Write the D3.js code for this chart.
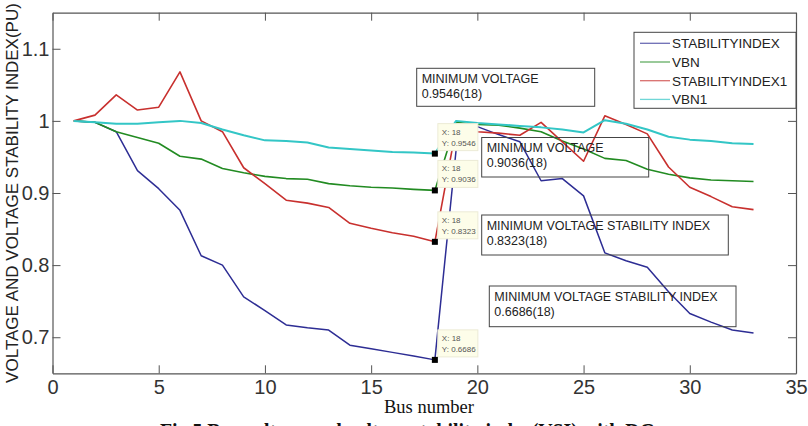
<!DOCTYPE html>
<html>
<head>
<meta charset="utf-8">
<script src="https://cdn.jsdelivr.net/npm/d3@7"></script>
<style>
  body { margin: 0; background: #fff; }
  .chart svg { display: block; }
</style>
</head>
<body>
<div class="chart"></div>
<script>
// data
let bus = [1, 2, 3, 4, 5, 6, 7, 8, 9, 10, 11, 12, 13, 14, 15, 16, 17, 18, 19, 20,
           21, 22, 23, 24, 25, 26, 27, 28, 29, 30, 31, 32, 33];

let stabilityIndex = [1.0, 0.998, 0.985, 0.931, 0.906, 0.876, 0.813, 0.800, 0.756, 0.737,
  0.717, 0.713, 0.710, 0.689, 0.684, 0.679, 0.674, 0.6686, 0.960, 0.992, 0.981, 0.971,
  0.917, 0.920, 0.896, 0.817, 0.806, 0.797, 0.763, 0.733, 0.721, 0.710, 0.706];

let vbn = [1.0, 0.998, 0.985, 0.977, 0.969, 0.951, 0.947, 0.934, 0.928, 0.923, 0.920,
  0.919, 0.913, 0.910, 0.908, 0.907, 0.905, 0.9036, 0.998, 0.995, 0.994, 0.990, 0.985,
  0.972, 0.961, 0.948, 0.945, 0.933, 0.926, 0.921, 0.918, 0.917, 0.916];

let stabilityIndex1 = [1.0, 1.008, 1.036, 1.015, 1.019, 1.068, 1.0, 0.985, 0.935, 0.913,
  0.890, 0.886, 0.880, 0.858, 0.851, 0.845, 0.840, 0.8323, 0.990, 0.985, 0.983, 0.980,
  0.998, 0.971, 0.944, 1.007, 0.995, 0.982, 0.936, 0.908, 0.895, 0.881, 0.877];

let vbn1 = [1.0, 0.998, 0.996, 0.996, 0.998, 1.0, 0.997, 0.988, 0.980, 0.973, 0.972,
  0.970, 0.963, 0.961, 0.959, 0.957, 0.956, 0.9546, 1.0, 0.997, 0.995, 0.993, 0.991,
  0.988, 0.984, 1.001, 0.996, 0.988, 0.978, 0.974, 0.972, 0.969, 0.968];

let seriesNames = ["STABILITYINDEX", "VBN", "STABILITYINDEX1", "VBN1"];
let seriesColors = ["#2d2d94", "#228b22", "#c8302e", "#33c6c6"];
let seriesWidths = [1.5, 1.6, 1.6, 2];

let xTicks = [0, 5, 10, 15, 20, 25, 30, 35];
let yTicks = [0.7, 0.8, 0.9, 1, 1.1];

let series = [stabilityIndex, vbn, stabilityIndex1, vbn1];

//create chart area
let svgWidth = 808;
let svgHeight = 426;

let margin = { top: 12.7, right: 12, bottom: 52.7, left: 52.5 };
let width = svgWidth - margin.left - margin.right;
let height = svgHeight - margin.top - margin.bottom;

let svg = d3.select(".chart")
  .append("svg")
  .attr("width", svgWidth)
  .attr("height", svgHeight)
  .style("font-family", "'Liberation Sans', Arial, sans-serif");

let chartGroup = svg.append("g")
  .attr("transform", `translate(${margin.left}, ${margin.top})`);

let xScale = d3.scaleLinear().domain([0, 35]).range([0, width]);
let yScale = d3.scaleLinear().domain([0.65, 1.15]).range([height, 0]);

// axes, matlab style: ticks inside on all four sides
function styleAxis(g) {
  g.selectAll(".domain").attr("stroke", "#555").attr("stroke-width", 1.2);
  g.selectAll(".tick line").attr("stroke", "#555");
  g.selectAll(".tick text").attr("fill", "#333").style("font-size", "20px");
}

chartGroup.append("g")
  .attr("transform", `translate(0, ${height})`)
  .call(d3.axisBottom(xScale).tickValues(xTicks).tickSizeInner(-8).tickSizeOuter(0).tickPadding(7))
  .call(styleAxis);

chartGroup.append("g")
  .call(d3.axisLeft(yScale).tickValues(yTicks).tickSizeInner(-8).tickSizeOuter(0).tickPadding(3)
    .tickFormat(d => d))
  .call(styleAxis);

chartGroup.append("g")
  .call(d3.axisTop(xScale).tickValues(xTicks).tickSizeInner(-8).tickSizeOuter(0).tickFormat(""))
  .call(styleAxis);

chartGroup.append("g")
  .attr("transform", `translate(${width}, 0)`)
  .call(d3.axisRight(yScale).tickValues(yTicks).tickSizeInner(-8).tickSizeOuter(0).tickFormat(""))
  .call(styleAxis);

// lines
let line = d3.line()
  .x((d, i) => xScale(bus[i]))
  .y(d => yScale(d));

series.forEach(function(values, s) {
  chartGroup.append("path")
    .datum(values)
    .attr("fill", "none")
    .attr("stroke", seriesColors[s])
    .attr("stroke-width", seriesWidths[s])
    .attr("stroke-linejoin", "round")
    .attr("d", line);
});

// data tips at the minimum of each series
let fmt = d3.format(".4f");
series.forEach(function(values, s) {
  let i = d3.minIndex(values);
  let mx = xScale(bus[i]);
  let my = yScale(values[i]);
  let tip = chartGroup.append("g");
  tip.append("rect")
    .attr("x", mx + 3).attr("y", my - 30)
    .attr("width", 40).attr("height", 27)
    .attr("fill", "#fdfde9")
    .attr("stroke", "#ecebd6");
  tip.append("text")
    .attr("x", mx + 7).attr("y", my - 19)
    .attr("fill", "#555").style("font-size", "8px")
    .text("X: " + bus[i]);
  tip.append("text")
    .attr("x", mx + 7).attr("y", my - 8)
    .attr("fill", "#555").style("font-size", "8px")
    .text("Y: " + fmt(values[i]));
  tip.append("rect")
    .attr("x", mx - 3).attr("y", my - 3)
    .attr("width", 6).attr("height", 6)
    .attr("fill", "#000");
});

// annotation text boxes (pixel positions)
let notes = [
  { s: 3, label: "MINIMUM VOLTAGE", x: 416.7, y: 68.3, w: 178, h: 38 },
  { s: 1, label: "MINIMUM VOLTAGE", x: 481.7, y: 137.5, w: 167, h: 39.5 },
  { s: 2, label: "MINIMUM VOLTAGE STABILITY INDEX", x: 481.7, y: 215, w: 246.6, h: 40 },
  { s: 0, label: "MINIMUM VOLTAGE STABILITY INDEX", x: 489.3, y: 286, w: 246.7, h: 40.7 }
];

notes.forEach(function(n) {
  let values = series[n.s];
  let i = d3.minIndex(values);
  let g = svg.append("g");
  g.append("rect")
    .attr("x", n.x).attr("y", n.y)
    .attr("width", n.w).attr("height", n.h)
    .attr("fill", "none")
    .attr("stroke", "#444");
  g.append("text")
    .attr("x", n.x + 5).attr("y", n.y + 14.5)
    .attr("fill", "#222").style("font-size", "12.5px")
    .text(n.label);
  g.append("text")
    .attr("x", n.x + 5).attr("y", n.y + 29.5)
    .attr("fill", "#222").style("font-size", "12.5px")
    .text(fmt(values[i]) + "(" + bus[i] + ")");
});

// legend
let legend = svg.append("g").attr("transform", "translate(634, 32.3)");
legend.append("rect")
  .attr("width", 162).attr("height", 76)
  .attr("fill", "#fff").attr("stroke", "#444");

seriesNames.forEach(function(name, s) {
  let yy = 11 + s * 18.7;
  legend.append("line")
    .attr("x1", 6).attr("x2", 36)
    .attr("y1", yy).attr("y2", yy)
    .attr("stroke", seriesColors[s])
    .attr("stroke-opacity", 0.7)
    .attr("stroke-width", 1.3);
  legend.append("text")
    .attr("x", 38).attr("y", yy)
    .attr("dy", "0.36em")
    .attr("fill", "#222").style("font-size", "13.5px")
    .text(name);
});

// axis titles
svg.append("text")
  .attr("transform", `translate(17.5, ${margin.top + height / 2}) rotate(-90)`)
  .attr("text-anchor", "middle")
  .attr("fill", "#222").style("font-size", "17px")
  .text("VOLTAGE AND VOLTAGE STABILITY INDEX(PU)");

svg.append("text")
  .attr("x", 429).attr("y", 413)
  .attr("text-anchor", "middle")
  .attr("fill", "#111")
  .style("font-family", "'Liberation Serif', 'Times New Roman', serif")
  .style("font-size", "18.5px")
  .text("Bus number");

// figure caption, cut off at the bottom edge
svg.append("text")
  .attr("x", 160).attr("y", 439)
  .attr("textLength", 495)
  .attr("lengthAdjust", "spacingAndGlyphs")
  .attr("fill", "#111")
  .style("font-family", "'Liberation Serif', 'Times New Roman', serif")
  .style("font-weight", "bold")
  .style("font-size", "24px")
  .text("Fig.5 Bus voltage and voltage stability index(VSI) with DG");
</script>
</body>
</html>
